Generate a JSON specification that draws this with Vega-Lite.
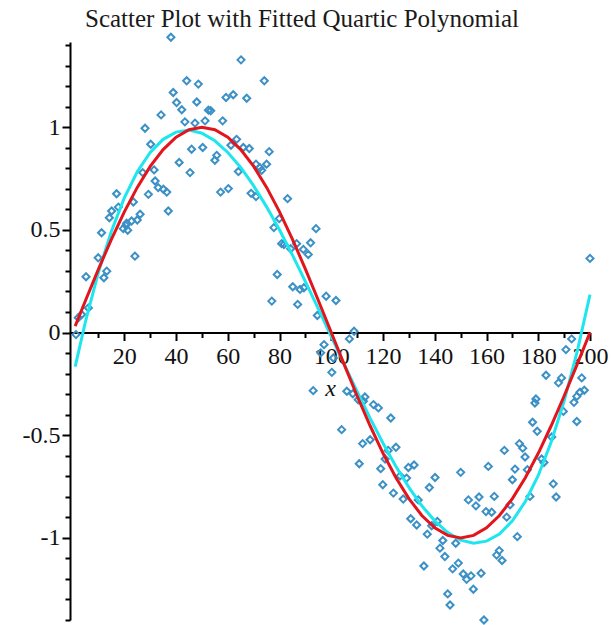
{
  "$schema": "https://vega.github.io/schema/vega-lite/v6.json",
  "autosize": "none",
  "width": 520,
  "height": 578,
  "padding": {"left": 70, "top": 42, "right": 23, "bottom": 5},
  "background": "white",
  "title": {
    "text": "Scatter Plot with Fitted Quartic Polynomial",
    "font": "Liberation Serif",
    "fontSize": 25,
    "fontWeight": "normal",
    "color": "#1a1a1a",
    "anchor": "middle",
    "dx": -28,
    "dy": 16,
    "offset": 14
  },
  "config": {
    "view": {"stroke": null},
    "axis": {"grid": false, "domainColor": "#000", "domainWidth": 2, "tickColor": "#000", "tickWidth": 2, "labelFont": "Liberation Serif", "labelFontSize": 24, "labelColor": "#111", "titleFont": "Liberation Serif", "titleFontSize": 24, "titleFontWeight": "normal", "titleColor": "#111"}
  },
  "datasets": {
    "pts": [
      {"x":38.0,"y":1.438},{"x":44.1,"y":1.226},{"x":48.6,"y":1.21},{"x":38.9,"y":1.169},{"x":40.2,"y":1.12},{"x":48.0,"y":1.123},{"x":42.2,"y":1.085},{"x":34.2,"y":1.06},{"x":43.4,"y":1.026},{"x":47.3,"y":1.02},{"x":28.0,"y":0.995},{"x":30.2,"y":0.917},{"x":46.0,"y":0.893},{"x":41.2,"y":0.828},{"x":45.4,"y":0.779},{"x":27.1,"y":0.779},{"x":31.5,"y":0.792},{"x":31.9,"y":0.738},{"x":33.1,"y":0.706},{"x":35.1,"y":0.698},{"x":36.4,"y":0.684},{"x":29.3,"y":0.673},{"x":17.0,"y":0.676},{"x":23.5,"y":0.636},{"x":15.1,"y":0.592},{"x":37.0,"y":0.592},{"x":17.7,"y":0.611},{"x":14.2,"y":0.559},{"x":26.1,"y":0.576},{"x":22.8,"y":0.543},{"x":20.9,"y":0.532},
      {"x":11.2,"y":0.486},{"x":19.6,"y":0.506},{"x":21.3,"y":0.498},{"x":20.6,"y":0.522},{"x":25.0,"y":0.548},{"x":9.9,"y":0.364},{"x":13.2,"y":0.299},{"x":12.1,"y":0.267},{"x":24.1,"y":0.372},{"x":5.2,"y":0.272},{"x":6.1,"y":0.12},{"x":3.5,"y":0.088},{"x":2.2,"y":0.072},{"x":1.3,"y":-0.01},
      {"x":65.1,"y":1.328},{"x":74.1,"y":1.226},{"x":59.3,"y":1.145},{"x":62.1,"y":1.158},{"x":67.3,"y":1.141},{"x":52.5,"y":1.083},{"x":53.4,"y":1.08},{"x":51.2,"y":1.031},{"x":58.0,"y":1.031},{"x":63.4,"y":0.941},{"x":61.2,"y":0.912},{"x":66.0,"y":0.901},{"x":68.3,"y":0.896},{"x":50.3,"y":0.901},{"x":76.0,"y":0.881},{"x":55.7,"y":0.863},{"x":55.0,"y":0.839},{"x":70.9,"y":0.82},{"x":72.4,"y":0.803},{"x":75.0,"y":0.82},{"x":73.1,"y":0.79},{"x":64.1,"y":0.784},{"x":57.2,"y":0.684},{"x":60.2,"y":0.701},{"x":69.0,"y":0.678},{"x":70.9,"y":0.662},{"x":83.1,"y":0.652},{"x":79.9,"y":0.555},{"x":77.8,"y":0.511},{"x":94.1,"y":0.506},
      {"x":80.8,"y":0.433},{"x":81.7,"y":0.429},{"x":84.3,"y":0.408},{"x":86.6,"y":0.433},{"x":89.2,"y":0.405},{"x":91.1,"y":0.38},{"x":92.0,"y":0.437},{"x":79.1,"y":0.283},{"x":85.1,"y":0.223},{"x":87.9,"y":0.21},{"x":89.4,"y":0.218},{"x":77.0,"y":0.153},{"x":87.0,"y":0.137},{"x":98.0,"y":0.177},{"x":101.8,"y":0.156},{"x":94.6,"y":0.083},{"x":107.0,"y":-0.031},{"x":108.8,"y":0.006},{"x":97.2,"y":-0.059},{"x":95.9,"y":-0.099},{"x":100.8,"y":-0.124},{"x":100.2,"y":-0.194},{"x":93.0,"y":-0.283},{"x":106.0,"y":-0.286},{"x":108.3,"y":-0.298},{"x":113.0,"y":-0.314},
      {"x":110.4,"y":-0.327},{"x":112.4,"y":-0.335},{"x":116.3,"y":-0.351},{"x":118.2,"y":-0.367},{"x":123.0,"y":-0.416},{"x":104.0,"y":-0.473},{"x":112.1,"y":-0.541},{"x":115.0,"y":-0.522},{"x":125.0,"y":-0.559},{"x":122.0,"y":-0.574},{"x":120.8,"y":-0.616},{"x":110.8,"y":-0.639},{"x":119.1,"y":-0.663},{"x":129.8,"y":-0.657},{"x":126.6,"y":-0.698},{"x":129.1,"y":-0.709},{"x":119.9,"y":-0.741},{"x":124.0,"y":-0.782},{"x":127.8,"y":-0.811},{"x":130.7,"y":-0.907},
      {"x":178.7,"y":-0.343},{"x":189.7,"y":-0.384},{"x":193.8,"y":-0.34},{"x":194.9,"y":-0.433},{"x":177.8,"y":-0.437},{"x":179.6,"y":-0.481},{"x":185.2,"y":-0.509},{"x":172.7,"y":-0.541},{"x":174.0,"y":-0.563},{"x":166.9,"y":-0.574},{"x":174.9,"y":-0.606},{"x":181.3,"y":-0.616},{"x":182.2,"y":-0.633},{"x":132.0,"y":-0.645},{"x":160.7,"y":-0.652},{"x":171.0,"y":-0.665},{"x":150.0,"y":-0.681},{"x":175.8,"y":-0.668},{"x":140.1,"y":-0.706},{"x":170.0,"y":-0.717},{"x":137.9,"y":-0.755},{"x":185.8,"y":-0.737},{"x":186.9,"y":-0.801},{"x":176.8,"y":-0.798},{"x":133.6,"y":-0.815},{"x":163.0,"y":-0.798},{"x":157.1,"y":-0.801},{"x":153.0,"y":-0.815},{"x":155.9,"y":-0.844},{"x":169.1,"y":-0.839},{"x":159.8,"y":-0.872},{"x":162.0,"y":-0.875},{"x":133.0,"y":-0.937},{"x":167.8,"y":-0.899},{"x":138.8,"y":-0.941},{"x":141.0,"y":-0.92},{"x":137.1,"y":-0.982},{"x":143.1,"y":-1.013},{"x":148.1,"y":-1.026},{"x":142.0,"y":-1.05},{"x":171.9,"y":-0.994},{"x":164.9,"y":-1.062},{"x":163.9,"y":-1.084},{"x":166.0,"y":-1.11},{"x":143.9,"y":-1.091},{"x":135.8,"y":-1.137},{"x":149.1,"y":-1.123},{"x":146.9,"y":-1.151},{"x":151.0,"y":-1.176},{"x":152.3,"y":-1.202},{"x":154.0,"y":-1.185},{"x":157.9,"y":-1.172},{"x":154.9,"y":-1.25},{"x":145.0,"y":-1.273},{"x":145.9,"y":-1.327},{"x":159.0,"y":-1.4},
      {"x":200.0,"y":0.361},{"x":192.9,"y":-0.031},{"x":190.7,"y":-0.083},{"x":183.0,"y":-0.208},{"x":187.8,"y":-0.245},{"x":189.0,"y":-0.221},{"x":196.8,"y":-0.221},{"x":196.1,"y":-0.291},{"x":197.8,"y":-0.281},{"x":194.9,"y":-0.311},{"x":179.1,"y":-0.324}
    ],
    "fit": [
      {"x":1,"y":-0.166},{"x":5,"y":0.055},{"x":10,"y":0.294},{"x":15,"y":0.493},{"x":20,"y":0.656},{"x":25,"y":0.783},{"x":30,"y":0.877},{"x":35,"y":0.941},{"x":40,"y":0.976},{"x":45,"y":0.986},{"x":50,"y":0.971},{"x":55,"y":0.934},{"x":60,"y":0.877},{"x":65,"y":0.804},{"x":70,"y":0.714},{"x":75,"y":0.612},{"x":80,"y":0.499},{"x":85,"y":0.377},{"x":90,"y":0.248},{"x":95,"y":0.115},{"x":100,"y":-0.02},{"x":105,"y":-0.155},{"x":110,"y":-0.288},{"x":115,"y":-0.417},{"x":120,"y":-0.539},{"x":125,"y":-0.652},{"x":130,"y":-0.754},{"x":135,"y":-0.844},{"x":140,"y":-0.917},{"x":145,"y":-0.974},{"x":150,"y":-1.011},{"x":155,"y":-1.026},{"x":160,"y":-1.016},{"x":165,"y":-0.981},{"x":170,"y":-0.917},{"x":175,"y":-0.823},{"x":180,"y":-0.696},{"x":185,"y":-0.533},{"x":190,"y":-0.334},{"x":195,"y":-0.095},{"x":200,"y":0.185}
    ],
    "sine": [
      {"x":1,"y":0.031},{"x":5,"y":0.156},{"x":10,"y":0.309},{"x":15,"y":0.454},{"x":20,"y":0.588},{"x":25,"y":0.707},{"x":30,"y":0.809},{"x":35,"y":0.891},{"x":40,"y":0.951},{"x":45,"y":0.988},{"x":50,"y":1.0},{"x":55,"y":0.988},{"x":60,"y":0.951},{"x":65,"y":0.891},{"x":70,"y":0.809},{"x":75,"y":0.707},{"x":80,"y":0.588},{"x":85,"y":0.454},{"x":90,"y":0.309},{"x":95,"y":0.156},{"x":100,"y":0.0},{"x":105,"y":-0.156},{"x":110,"y":-0.309},{"x":115,"y":-0.454},{"x":120,"y":-0.588},{"x":125,"y":-0.707},{"x":130,"y":-0.809},{"x":135,"y":-0.891},{"x":140,"y":-0.951},{"x":145,"y":-0.988},{"x":150,"y":-1.0},{"x":155,"y":-0.988},{"x":160,"y":-0.951},{"x":165,"y":-0.891},{"x":170,"y":-0.809},{"x":175,"y":-0.707},{"x":180,"y":-0.588},{"x":185,"y":-0.454},{"x":190,"y":-0.309},{"x":195,"y":-0.156},{"x":200,"y":0.0}
    ]
  },
  "encoding": {
    "x": {
      "field": "x", "type": "quantitative",
      "scale": {"domain": [-1, 200], "nice": false, "zero": false},
      "axis": {
        "title": "x",
        "titleFontStyle": "italic",
        "titlePadding": 8,
        "offset": -287.5,
        "values": [10,20,30,40,50,60,70,80,90,100,110,120,130,140,150,160,170,180,190,200],
        "labelExpr": "datum.value % 20 === 0 ? datum.label : ''",
        "labelPadding": 4,
        "labelFlush": false,
        "labelOverlap": false,
        "tickSize": {"condition": {"test": "datum.value % 20 === 0", "value": 8}, "value": 5}
      }
    },
    "y": {
      "field": "y", "type": "quantitative",
      "scale": {"domain": [-1.4, 1.415], "nice": false, "zero": false},
      "axis": {
        "title": null,
        "values": [-1.4,-1.3,-1.2,-1.1,-1,-0.9,-0.8,-0.7,-0.6,-0.5,-0.4,-0.3,-0.2,-0.1,0,0.1,0.2,0.3,0.4,0.5,0.6,0.7,0.8,0.9,1,1.1,1.2,1.3,1.4],
        "labelExpr": "abs(datum.value*2 - round(datum.value*2)) < 0.001 ? replace(format(datum.value, '~g'), '\u2212', '-') : ''",
        "labelPadding": 2,
        "labelFlush": false,
        "labelOverlap": false,
        "tickSize": {"condition": {"test": "abs(datum.value*2 - round(datum.value*2)) < 0.001", "value": 8}, "value": 5}
      }
    }
  },
  "layer": [
    {
      "data": {"name": "pts"},
      "mark": {"type": "point", "shape": "diamond", "filled": false, "stroke": "#3b90c6", "strokeWidth": 2, "size": 50, "opacity": 1}
    },
    {
      "data": {"name": "fit"},
      "mark": {"type": "line", "color": "#1ee6ee", "strokeWidth": 3}
    },
    {
      "data": {"name": "sine"},
      "mark": {"type": "line", "color": "#e3151c", "strokeWidth": 3}
    }
  ]
}
